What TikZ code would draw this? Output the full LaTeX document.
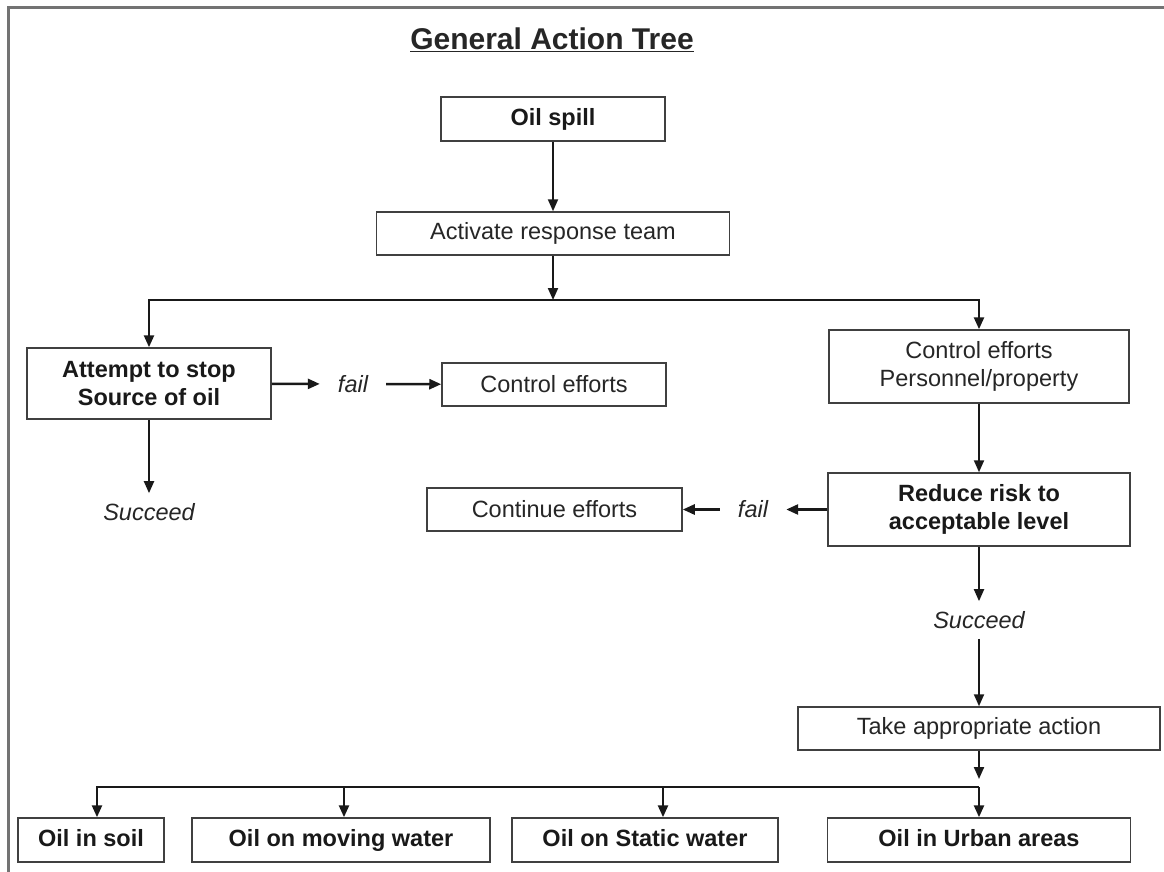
\documentclass[tikz,border=0pt]{standalone}
\usepackage{fontspec}
\setmainfont{Liberation Sans}
\usetikzlibrary{arrows.meta}

\begin{document}
\begin{tikzpicture}[x=1pt, y=-1pt]
\tikzstyle{txt}=[font=\fontsize{23.5}{28}\selectfont, text=black!85]
\tikzstyle{bold}=[font=\fontsize{23.5}{28}\selectfont\bfseries, text=black!90]
\tikzstyle{box}=[rectangle,draw=black!75,line width=1.5pt,fill=white,align=center,inner sep=0pt]
\tikzstyle{kind}=[box,bold,minimum height=44pt,text height=17pt,text depth=5pt]
\tikzstyle{lbl}=[font=\fontsize{23.5}{28}\selectfont\itshape,text=black!85,inner xsep=18pt,inner ysep=10pt]
\tikzstyle{arr}=[-{Triangle[length=12pt,width=10pt]},line width=2pt,black!90]
\useasboundingbox (0,0) rectangle (1164,872);
\draw[line width=3pt,black!55] (1164,8) -- (8,8) -- (8,872);

\node[font=\fontsize{30}{36}\selectfont\bfseries,text=black!85] (title) at (552,40) {\underline{General Action Tree}};

% top of the tree
\node[box,bold,minimum width=224pt,minimum height=44pt] (spill) at (553,119) {Oil spill};
\node[box,txt,minimum width=353pt,minimum height=43pt] (team) at (553,233.5) {Activate response team};
\coordinate (split) at (553,300);

% left branch
\node[box,bold,minimum width=244pt,minimum height=71pt] (stop) at (149,383.5) {Attempt to stop\\Source of oil};
\node[lbl] (fail1) at (353,384) {fail};
\node[box,txt,minimum width=224pt,minimum height=43pt] (ctrl) at (554,384.5) {Control efforts};
\node[lbl] (ok1) at (149,512) {Succeed};

% right branch
\node[box,txt,minimum width=300pt,minimum height=73pt] (safety) at (979,366.5) {Control efforts\\Personnel/property};
\node[box,bold,minimum width=302pt,minimum height=73pt] (risk) at (979,509.5) {Reduce risk to\\acceptable level};
\node[lbl] (fail2) at (753,509.5) {fail};
\node[box,txt,minimum width=255pt,minimum height=43pt] (cont) at (554.5,509.5) {Continue efforts};
\node[lbl] (ok2) at (979,620) {Succeed};
\node[box,txt,minimum width=362pt,minimum height=43pt] (act) at (979,728.5) {Take appropriate action};
\coordinate (hub) at (979,779);
\coordinate (row) at (979,787);

% kinds of spill
\node[kind,minimum width=146pt] (soil) at (91,840) {Oil in soil};
\node[kind,minimum width=298pt] (moving) at (341,840) {Oil on moving water};
\node[kind,minimum width=266pt] (static) at (645,840) {Oil on Static water};
\node[kind,minimum width=303pt] (urban) at (979,840) {Oil in Urban areas};

\path[arr]
(spill) edge (team)
(team) edge (split)
(stop) edge (ok1)
(safety) edge (risk)
(risk) edge (ok2)
(ok2) edge (act)
(act) edge (hub)
;
\path[arr,line width=2.6pt]
(stop) edge (fail1)
(fail1) edge (ctrl)
(risk) edge (fail2)
(fail2) edge (cont)
;
\draw[arr,line width=2.5pt] (split) -| (stop);
\draw[arr,line width=2.5pt] (split) -| (safety);
\draw[arr,line width=2.5pt] (row) -| ([xshift=6pt]soil.north);
\draw[arr,line width=2.5pt] (row) -| ([xshift=3pt]moving.north);
\draw[arr,line width=2.5pt] (row) -| ([xshift=18pt]static.north);
\draw[arr,line width=2.5pt] (row) -- (urban);
\end{tikzpicture}
\end{document}
